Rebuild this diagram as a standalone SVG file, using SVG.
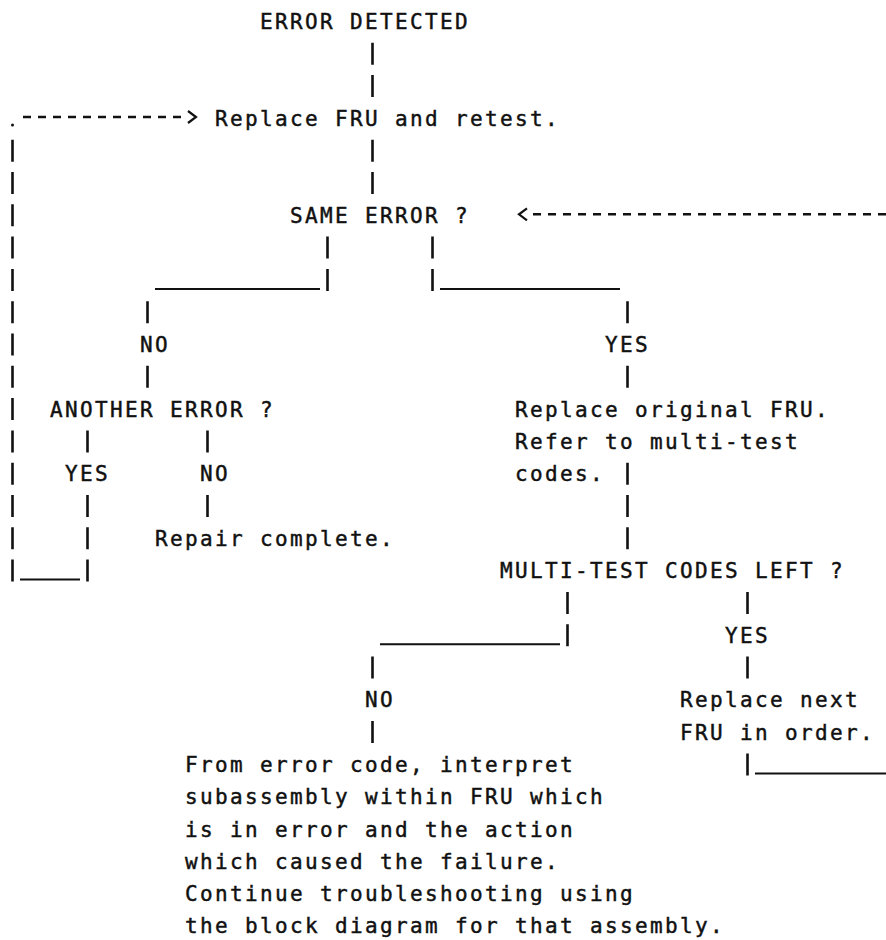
<svg xmlns="http://www.w3.org/2000/svg" width="886" height="940" viewBox="0 0 886 940">
  <style>
    .t { font-family: "DejaVu Sans Mono", "Liberation Mono", monospace; font-size: 21px; letter-spacing: 2.36px; fill: #111; stroke: #111; stroke-width: 0.45px; }
    .bar { stroke: #111; stroke-width: 2.6; fill: none; }
    .us { stroke: #111; stroke-width: 2; fill: none; }
    .dash { stroke: #111; stroke-width: 2.6; fill: none; stroke-dasharray: 8 7; }
    .head { stroke: #111; stroke-width: 2.2; fill: none; stroke-linejoin: miter; }
  </style>
  <rect width="886" height="940" fill="#ffffff"/>

  <g id="connectors">
    <path class="bar" d="M12.5,139.7V161.7 M12.5,172V194 M12.5,204.3V226.3 M12.5,236.6V258.6 M12.5,268.9V290.9 M12.5,301.2V323.2 M12.5,333.5V355.5 M12.5,365.8V387.8 M12.5,398.1V420.1 M12.5,430.4V452.4 M12.5,462.7V484.7 M12.5,495V517 M12.5,527.3V549.3 M12.5,559.6V581.6"/>
    <path class="bar" d="M372.5,42.8V64.8 M372.5,75.1V97.1 M372.5,139.7V161.7 M372.5,172V194 M372.5,656.5V678.5 M372.5,721.1V743.1"/>
    <path class="bar" d="M327.5,236.6V258.6 M327.5,268.9V290.9 M432.5,236.6V258.6 M432.5,268.9V290.9"/>
    <path class="bar" d="M147.5,301.2V323.2 M147.5,365.8V387.8"/>
    <path class="bar" d="M627.5,301.2V323.2 M627.5,365.8V387.8 M627.5,462.7V484.7 M627.5,495V517 M627.5,527.3V549.3"/>
    <path class="bar" d="M87.5,430.4V452.4 M87.5,495V517 M87.5,527.3V549.3 M87.5,559.6V581.6"/>
    <path class="bar" d="M207.5,430.4V452.4 M207.5,495V517"/>
    <path class="bar" d="M567.5,591.9V613.9 M567.5,624.2V646.2"/>
    <path class="bar" d="M747.5,591.9V613.9 M747.5,656.5V678.5 M747.5,753.4V775.4"/>

    <path class="us" d="M155,288.9H320 M440,288.9H620 M20,579.6H80 M380,644.2H560 M755,773.4H886"/>

    <circle cx="12.5" cy="125" r="1.5" fill="#111"/>
    <path class="dash" d="M23,117H182"/>
    <polyline class="head" points="188,111 196,117 188,123"/>
    <path class="dash" d="M533,214.3H886"/>
    <polyline class="head" points="527,208.3 519,214.3 527,220.3"/>
  </g>

  <g id="n-error-detected"><text class="t" x="260" y="29">ERROR DETECTED</text></g>
  <g id="n-replace-fru"><text class="t" x="215" y="125.9">Replace FRU and retest.</text></g>
  <g id="n-same-error"><text class="t" x="290" y="222.8">SAME ERROR ?</text></g>
  <g id="lbl-no-1"><text class="t" x="140" y="352">NO</text></g>
  <g id="lbl-yes-1"><text class="t" x="605" y="352">YES</text></g>
  <g id="n-another-error"><text class="t" x="50" y="416.6">ANOTHER ERROR ?</text></g>
  <g id="n-replace-original">
    <text class="t" x="515" y="416.6">Replace original FRU.</text>
    <text class="t" x="515" y="448.9">Refer to multi-test</text>
    <text class="t" x="515" y="481.2">codes.</text>
  </g>
  <g id="lbl-yes-2"><text class="t" x="65" y="481.2">YES</text></g>
  <g id="lbl-no-2"><text class="t" x="200" y="481.2">NO</text></g>
  <g id="n-repair-complete"><text class="t" x="155" y="545.8">Repair complete.</text></g>
  <g id="n-multi-test"><text class="t" x="500" y="578.1">MULTI-TEST CODES LEFT ?</text></g>
  <g id="lbl-yes-3"><text class="t" x="725" y="642.7">YES</text></g>
  <g id="lbl-no-3"><text class="t" x="365" y="707.3">NO</text></g>
  <g id="n-replace-next">
    <text class="t" x="680" y="707.3">Replace next</text>
    <text class="t" x="680" y="739.6">FRU in order.</text>
  </g>
  <g id="n-interpret">
    <text class="t" x="185" y="771.9">From error code, interpret</text>
    <text class="t" x="185" y="804.2">subassembly within FRU which</text>
    <text class="t" x="185" y="836.5">is in error and the action</text>
    <text class="t" x="185" y="868.8">which caused the failure.</text>
    <text class="t" x="185" y="901.1">Continue troubleshooting using</text>
    <text class="t" x="185" y="933.4">the block diagram for that assembly.</text>
  </g>
</svg>
